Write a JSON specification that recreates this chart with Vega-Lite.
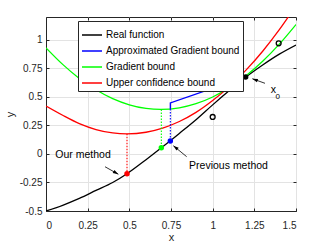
{
  "$schema": "https://vega.github.io/schema/vega-lite/v6.json",
  "width": 250,
  "height": 194,
  "autosize": {"type": "none"},
  "padding": {"left": 46, "top": 17, "right": 31, "bottom": 34},
  "config": {
    "font": "Liberation Sans",
    "view": {"stroke": "#262626", "strokeWidth": 1},
    "axis": {
      "domainColor": "#262626", "tickColor": "#262626", "labelColor": "#262626", "titleColor": "#262626",
      "labelFontSize": 10, "titleFontSize": 11, "titleFontWeight": "normal",
      "gridColor": "#e3e3e3", "tickSize": -3
    }
  },
  "resolve": {"axis": {"x": "independent", "y": "independent"}},
  "datasets": {
    "curves": [
      {"series": "Real function", "x": 0, "y": -0.5},
      {"series": "Real function", "x": 0.1, "y": -0.45},
      {"series": "Real function", "x": 0.2, "y": -0.39},
      {"series": "Real function", "x": 0.3, "y": -0.32},
      {"series": "Real function", "x": 0.4, "y": -0.25},
      {"series": "Real function", "x": 0.486, "y": -0.173},
      {"series": "Real function", "x": 0.6, "y": -0.05},
      {"series": "Real function", "x": 0.7, "y": 0.063},
      {"series": "Real function", "x": 0.8, "y": 0.18},
      {"series": "Real function", "x": 0.9, "y": 0.3},
      {"series": "Real function", "x": 1.0, "y": 0.43},
      {"series": "Real function", "x": 1.1, "y": 0.555},
      {"series": "Real function", "x": 1.2, "y": 0.675},
      {"series": "Real function", "x": 1.3, "y": 0.78},
      {"series": "Real function", "x": 1.4, "y": 0.875},
      {"series": "Real function", "x": 1.5, "y": 0.955},
      {"series": "Gradient bound", "x": 0, "y": 0.93},
      {"series": "Gradient bound", "x": 0.1, "y": 0.785},
      {"series": "Gradient bound", "x": 0.2, "y": 0.662},
      {"series": "Gradient bound", "x": 0.3, "y": 0.563},
      {"series": "Gradient bound", "x": 0.4, "y": 0.485},
      {"series": "Gradient bound", "x": 0.5, "y": 0.431},
      {"series": "Gradient bound", "x": 0.6, "y": 0.399},
      {"series": "Gradient bound", "x": 0.69, "y": 0.39},
      {"series": "Gradient bound", "x": 0.8, "y": 0.404},
      {"series": "Gradient bound", "x": 0.9, "y": 0.44},
      {"series": "Gradient bound", "x": 1.0, "y": 0.499},
      {"series": "Gradient bound", "x": 1.1, "y": 0.581},
      {"series": "Gradient bound", "x": 1.2, "y": 0.685},
      {"series": "Gradient bound", "x": 1.3, "y": 0.812},
      {"series": "Gradient bound", "x": 1.4, "y": 0.962},
      {"series": "Gradient bound", "x": 1.5, "y": 1.134},
      {"series": "Upper confidence bound", "x": 0, "y": 0.42},
      {"series": "Upper confidence bound", "x": 0.1, "y": 0.339},
      {"series": "Upper confidence bound", "x": 0.2, "y": 0.266},
      {"series": "Upper confidence bound", "x": 0.3, "y": 0.214},
      {"series": "Upper confidence bound", "x": 0.4, "y": 0.184},
      {"series": "Upper confidence bound", "x": 0.486, "y": 0.176},
      {"series": "Upper confidence bound", "x": 0.6, "y": 0.19},
      {"series": "Upper confidence bound", "x": 0.7, "y": 0.226},
      {"series": "Upper confidence bound", "x": 0.8, "y": 0.284},
      {"series": "Upper confidence bound", "x": 0.9, "y": 0.364},
      {"series": "Upper confidence bound", "x": 1.0, "y": 0.468},
      {"series": "Upper confidence bound", "x": 1.1, "y": 0.59},
      {"series": "Upper confidence bound", "x": 1.2, "y": 0.734},
      {"series": "Upper confidence bound", "x": 1.3, "y": 0.9},
      {"series": "Upper confidence bound", "x": 1.4, "y": 1.089},
      {"series": "Upper confidence bound", "x": 1.5, "y": 1.3}
    ],
    "blue": [
      {"series": "Approximated Gradient bound", "x": 0.746, "y": 0.394},
      {"series": "Approximated Gradient bound", "x": 0.746, "y": 0.447},
      {"series": "Approximated Gradient bound", "x": 1.198, "y": 0.675}
    ],
    "drops": [
      {"series": "Upper confidence bound", "x": 0.486, "y": 0.176, "y2": -0.173},
      {"series": "Gradient bound", "x": 0.692, "y": 0.39, "y2": 0.055},
      {"series": "Approximated Gradient bound", "x": 0.746, "y": 0.394, "y2": 0.113}
    ],
    "dots": [
      {"series": "Upper confidence bound", "x": 0.486, "y": -0.173},
      {"series": "Gradient bound", "x": 0.692, "y": 0.055},
      {"series": "Approximated Gradient bound", "x": 0.746, "y": 0.113},
      {"series": "Real function", "x": 1.198, "y": 0.675}
    ],
    "obs": [
      {"x": 1.0, "y": 0.324},
      {"x": 1.396, "y": 0.969}
    ],
    "arrows": [
      {"id": "our", "x": 0.354, "y": -0.112, "x2": 0.434, "y2": -0.178},
      {"id": "prev", "x": 0.844, "y": -0.024, "x2": 0.764, "y2": 0.072},
      {"id": "x0", "x": 1.314, "y": 0.619, "x2": 1.238, "y2": 0.659}
    ],
    "notes": [
      {"label": "Our method", "x": 0.222, "y": -0.01},
      {"label": "Previous method", "x": 1.095, "y": -0.103},
      {"label": "x", "x": 1.364, "y": 0.56}
    ],
    "subs": [
      {"label": "0", "x": 1.39, "y": 0.5}
    ]
  },
  "layer": [
    {
      "data": {"name": "curves"},
      "mark": {"type": "line", "interpolate": "monotone", "strokeWidth": 1.3, "clip": true},
      "encoding": {
        "x": {"field": "x", "type": "quantitative", "scale": {"domain": [0, 1.5], "nice": false},
          "axis": {"title": "x", "values": [0, 0.25, 0.5, 0.75, 1, 1.25, 1.5], "labelExpr": "'' + datum.value", "labelPadding": 12, "titlePadding": 1}},
        "y": {"field": "y", "type": "quantitative", "scale": {"domain": [-0.5, 1.2], "nice": false, "zero": false},
          "axis": {"title": "y", "values": [-0.5, -0.25, 0, 0.25, 0.5, 0.75, 1], "labelExpr": "'' + datum.value", "labelPadding": 7, "titlePadding": 4}},
        "color": {"field": "series", "type": "nominal",
          "scale": {"domain": ["Real function", "Approximated Gradient bound", "Gradient bound", "Upper confidence bound"],
                    "range": ["#000000", "#0000ff", "#00ff00", "#ff0000"]},
          "legend": {"orient": "none", "legendX": 32, "legendY": 4, "title": null, "symbolType": "stroke",
            "symbolSize": 400, "symbolStrokeWidth": 1.5, "labelFontSize": 10, "labelFont": "Liberation Sans",
            "labelColor": "#000000", "strokeColor": "#262626", "fillColor": "white", "padding": 3,
            "rowPadding": 0, "labelOffset": 3, "labelLimit": 0}
        }
      }
    },
    {
      "data": {"name": "obs"},
      "mark": {"type": "point", "filled": false, "size": 24, "stroke": "#000000", "strokeWidth": 1.3, "opacity": 1},
      "encoding": {
        "x": {"field": "x", "type": "quantitative",
          "axis": {"orient": "top", "values": [0, 0.25, 0.5, 0.75, 1, 1.25, 1.5], "labels": false, "title": null, "grid": false, "domain": false}},
        "y": {"field": "y", "type": "quantitative",
          "axis": {"orient": "right", "values": [-0.5, -0.25, 0, 0.25, 0.5, 0.75, 1], "labels": false, "title": null, "grid": false, "domain": false}}
      }
    },
    {
      "data": {"name": "blue"},
      "mark": {"type": "line", "strokeWidth": 1.3},
      "encoding": {
        "x": {"field": "x", "type": "quantitative", "axis": null},
        "y": {"field": "y", "type": "quantitative", "axis": null},
        "color": {"field": "series", "type": "nominal"}
      }
    },
    {
      "data": {"name": "drops"},
      "mark": {"type": "rule", "strokeDash": [1.5, 1.5], "strokeWidth": 1.1},
      "encoding": {
        "x": {"field": "x", "type": "quantitative", "axis": null},
        "y": {"field": "y", "type": "quantitative", "axis": null},
        "y2": {"field": "y2"},
        "color": {"field": "series", "type": "nominal", "legend": null}
      }
    },
    {
      "data": {"name": "dots"},
      "mark": {"type": "point", "filled": true, "size": 30, "opacity": 1},
      "encoding": {
        "x": {"field": "x", "type": "quantitative", "axis": null},
        "y": {"field": "y", "type": "quantitative", "axis": null},
        "color": {"field": "series", "type": "nominal", "legend": null}
      }
    },
    {
      "data": {"name": "arrows"},
      "mark": {"type": "rule", "color": "#000000", "strokeWidth": 0.8},
      "encoding": {
        "x": {"field": "x", "type": "quantitative", "axis": null},
        "y": {"field": "y", "type": "quantitative", "axis": null},
        "x2": {"field": "x2"},
        "y2": {"field": "y2"}
      }
    },
    {
      "data": {"name": "arrows"},
      "transform": [{"filter": "datum.id == 'our'"}],
      "mark": {"type": "point", "shape": "M0,0L0.7,2.2L-0.7,2.2Z", "filled": true, "color": "#000000", "size": 25, "angle": 120, "opacity": 1},
      "encoding": {
        "x": {"field": "x2", "type": "quantitative", "axis": null},
        "y": {"field": "y2", "type": "quantitative", "axis": null}
      }
    },
    {
      "data": {"name": "arrows"},
      "transform": [{"filter": "datum.id == 'prev'"}],
      "mark": {"type": "point", "shape": "M0,0L0.7,2.2L-0.7,2.2Z", "filled": true, "color": "#000000", "size": 25, "angle": 309, "opacity": 1},
      "encoding": {
        "x": {"field": "x2", "type": "quantitative", "axis": null},
        "y": {"field": "y2", "type": "quantitative", "axis": null}
      }
    },
    {
      "data": {"name": "arrows"},
      "transform": [{"filter": "datum.id == 'x0'"}],
      "mark": {"type": "point", "shape": "M0,0L0.7,2.2L-0.7,2.2Z", "filled": true, "color": "#000000", "size": 25, "angle": 290, "opacity": 1},
      "encoding": {
        "x": {"field": "x2", "type": "quantitative", "axis": null},
        "y": {"field": "y2", "type": "quantitative", "axis": null}
      }
    },
    {
      "data": {"name": "notes"},
      "mark": {"type": "text", "fontSize": 10.5, "color": "#000000", "align": "center", "baseline": "middle"},
      "encoding": {
        "x": {"field": "x", "type": "quantitative", "axis": null},
        "y": {"field": "y", "type": "quantitative", "axis": null},
        "text": {"field": "label"}
      }
    },
    {
      "data": {"name": "subs"},
      "mark": {"type": "text", "fontSize": 8, "color": "#000000", "align": "center", "baseline": "middle"},
      "encoding": {
        "x": {"field": "x", "type": "quantitative", "axis": null},
        "y": {"field": "y", "type": "quantitative", "axis": null},
        "text": {"field": "label"}
      }
    }
  ]
}
